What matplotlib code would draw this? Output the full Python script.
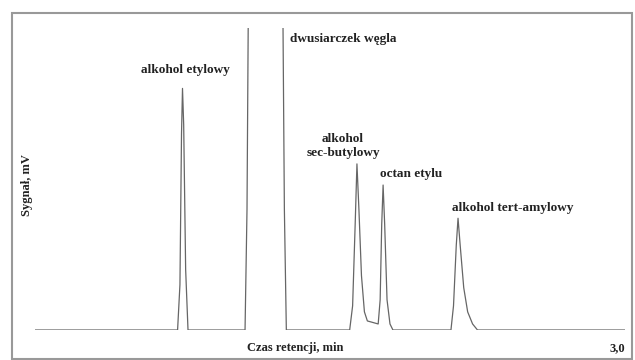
import matplotlib.pyplot as plt
from matplotlib.patches import Rectangle

# chromatogram trace (time in min, signal in mV)
czas = [0.0, 0.725, 0.737, 0.745, 0.750, 0.756, 0.766, 0.778,
        1.068, 1.078, 1.085, 1.260, 1.268, 1.278,
        1.600, 1.615, 1.628, 1.637, 1.647, 1.660, 1.675, 1.690,
        1.745, 1.755, 1.763, 1.770, 1.778, 1.790, 1.805, 1.820,
        2.115, 2.128, 2.142, 2.151, 2.162, 2.180, 2.200, 2.225, 2.250, 3.0]
sygnal = [0, 0, 15, 65, 80, 68, 20, 0,
          0, 40, 110, 110, 40, 0,
          0, 8, 35, 55, 40, 18, 6, 3,
          2, 10, 35, 48, 35, 10, 2, 0,
          0, 8, 28, 37, 28, 14, 6, 2, 0, 0]

# peak labels and where they sit
nazwy = ["alkohol etylowy", "dwusiarczek węgla", "alkohol\nsec-butylowy",
         "octan etylu", "alkohol tert-amylowy"]
poz_x = [0.763, 1.297, 1.566, 1.912, 2.43]
poz_y = [86, 96.5, 61, 51.5, 40.5]
wyr = ["center", "left", "center", "center", "center"]

font = ["Liberation Serif", "DejaVu Serif"]
kolor_tekstu = "#222222"

fig = plt.figure(figsize=(6.35, 3.6), dpi=100)
ax = fig.add_axes([35 / 635, 30 / 360, 590 / 635, 302 / 360])
ax.plot(czas, sygnal, color="#666666", lw=0.9)
ax.set_xlim(0, 3.0)
ax.set_ylim(0, 100)
ax.axis("off")

for n, x, y, h in zip(nazwy, poz_x, poz_y, wyr):
    ax.text(x, y, n, ha=h, va="center", fontsize=9.5, fontweight="bold",
            family=font, color=kolor_tekstu, linespacing=1.2)

fig.text(27 / 635, 1 - 185 / 360, "Sygnał, mV", rotation=90, ha="center",
         va="center", fontsize=9, fontweight="bold", family=font, color=kolor_tekstu)
fig.text(295 / 635, 1 - 348 / 360, "Czas retencji, min", ha="center",
         va="center", fontsize=9, fontweight="bold", family=font, color=kolor_tekstu)
fig.text(617 / 635, 1 - 348 / 360, "3,0", ha="center", va="center",
         fontsize=9, fontweight="bold", family=font, color=kolor_tekstu)

# thin frame round the whole picture
fig.patches.append(Rectangle((12 / 635, 0.002), 620 / 635, 1 - 14 / 360,
                             transform=fig.transFigure, fill=False,
                             edgecolor="#999999", lw=1.5))

fig.savefig("out.png", dpi=100)
